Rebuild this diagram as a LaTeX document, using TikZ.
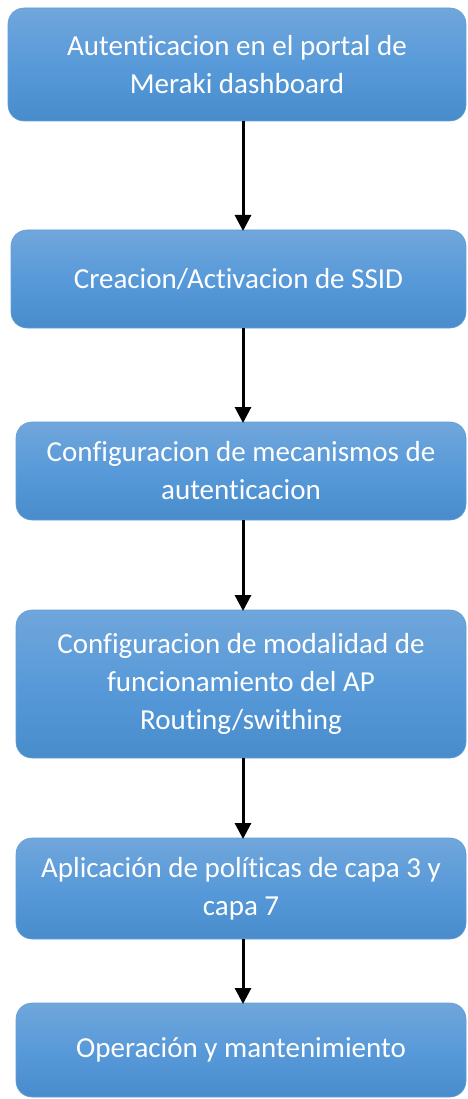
\documentclass[tikz,border=0pt]{standalone}
\usepackage{fontspec}
\setmainfont{Carlito}[Ligatures={NoCommon,NoRare,NoContextual}]
\usetikzlibrary{arrows.meta}
\definecolor{boxtop}{RGB}{112,166,219}
\definecolor{boxmid}{RGB}{88,154,217}
\definecolor{boxbot}{RGB}{72,140,204}
\definecolor{boxline}{RGB}{100,158,214}
\begin{document}
\begin{tikzpicture}[x=1pt,y=-1pt,
  stepbox/.style={rounded corners=16pt, top color=boxtop, bottom color=boxbot, middle color=boxmid,
    draw=boxline, line width=0.6pt, text=white, align=center,
    font=\fontsize{29}{38}\selectfont, inner sep=0pt, outer sep=0pt},
  flow/.style={line width=3pt, -{Triangle[width=16pt,length=16pt]}, shorten >=-1pt}]
\useasboundingbox (0,0) rectangle (467,1099);
\node[stepbox, minimum width=458pt, minimum height=113pt] (b1) at (237,64.5) {Autenticacion en el portal de\\Meraki dashboard};
\node[stepbox, minimum width=455pt, minimum height=98pt] (b2) at (238.5,279) {Creacion/Activacion de SSID};
\node[stepbox, minimum width=450pt, minimum height=98pt] (b3) at (241,471) {Configuracion de mecanismos de\\autenticacion};
\node[stepbox, minimum width=450pt, minimum height=148pt] (b4) at (241,684) {Configuracion de modalidad de\\funcionamiento del AP\\Routing/swithing};
\node[stepbox, minimum width=450pt, minimum height=101pt] (b5) at (241,888.5) {Aplicación de políticas de capa 3 y\\capa 7};
\node[stepbox, minimum width=450pt, minimum height=94pt] (b6) at (241,1050) {Operación y mantenimiento};
\coordinate (x) at (243,0);
\draw[flow] (b1.south -| x) -- (b2.north -| x);
\draw[flow] (b2.south -| x) -- (b3.north -| x);
\draw[flow] (b3.south -| x) -- (b4.north -| x);
\draw[flow] (b4.south -| x) -- (b5.north -| x);
\draw[flow] (b5.south -| x) -- (b6.north -| x);
\end{tikzpicture}
\end{document}
